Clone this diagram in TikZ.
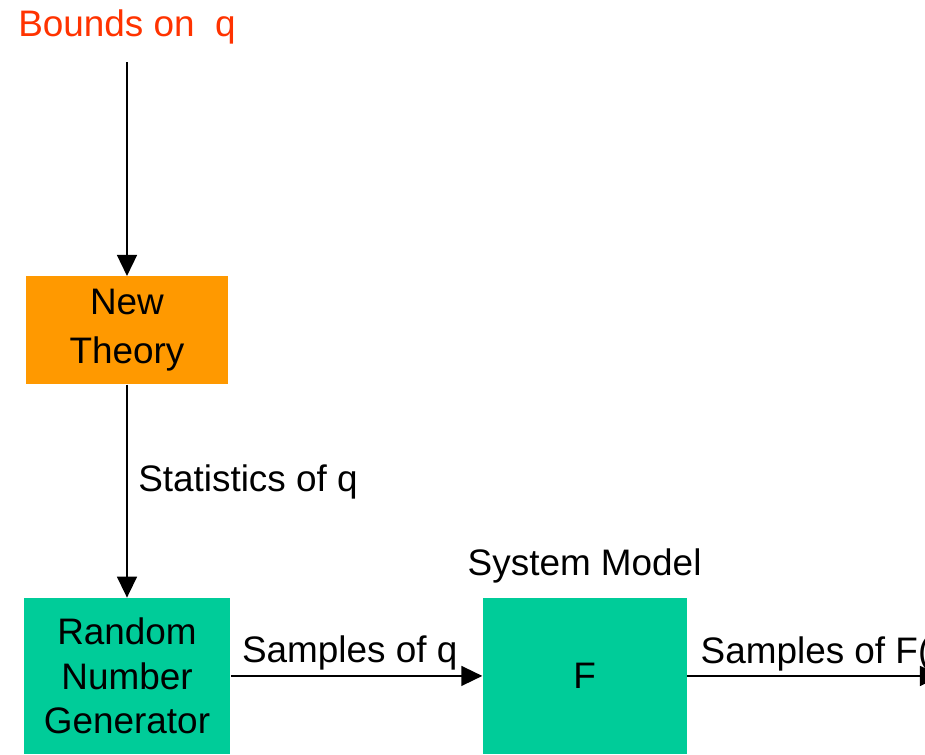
\documentclass[tikz,border=0pt]{standalone}
\usepackage{fontspec}
\setmainfont{Liberation Sans}
\usepackage{xcolor}
\usepackage{tikz}
\usetikzlibrary{arrows.meta, calc, positioning}
\definecolor{TheoryOrange}{RGB}{255, 153, 0}
\definecolor{ModelGreen}{RGB}{0, 204, 153}
\definecolor{BoundsRed}{RGB}{255, 51, 0}

\begin{document}
\begin{tikzpicture}[
        x=0.02cm, y=-0.02cm,
        font=\fontsize{21}{25.3}\selectfont,
        box/.style = {draw=none, text width=3.9cm, align=center, inner sep=0pt},
        tag/.style = {inner sep=0pt},
        line/.style = {draw, line width=0.03cm, -{Triangle[length=0.42cm, width=0.4cm]}}
    ]
        \useasboundingbox (0,0) rectangle (925,754);
        \clip (0,0) rectangle (925,754);

        % Input bounds
        \node (bounds_node) [tag, anchor=base, text=BoundsRed] at (127,36) {Bounds on\ \ q};

        % Blocks
        \node (theory_node) [box, fill=TheoryOrange, minimum width=4.06cm, minimum height=2.16cm, below=4.8cm of bounds_node.base] {\vspace*{0.08cm}New\\ Theory};
        \node (rng_node) [box, fill=ModelGreen, minimum width=4.14cm, minimum height=3.12cm, below=4.26cm of theory_node.south] {Random\\ Number\\ Generator};
        \node (model_node) [box, fill=ModelGreen, minimum width=4.08cm, minimum height=3.12cm, right=5.03cm of rng_node] {F};
        \node (model_tag) [tag, above=0.28cm of model_node] {System Model};
        \coordinate (out_pt) at ($(model_node.east)+(254,0)$);

        % Connectors
        \draw [line, shorten <=0.36cm] (bounds_node.south) -- (theory_node.north);
        \draw [line] (theory_node.south) -- (rng_node.north)
            node [tag, midway, anchor=base west, xshift=0.21cm] {Statistics of q};
        \draw [line] (rng_node.east) -- (model_node.west)
            node [tag, pos=0, anchor=base west, xshift=0.21cm, yshift=0.26cm] {Samples of q};
        \draw [line] (model_node.east) -- (out_pt)
            node [tag, pos=0, anchor=base west, xshift=0.26cm, yshift=0.24cm] {Samples of F(q)};

    \end{tikzpicture}
\end{document}
